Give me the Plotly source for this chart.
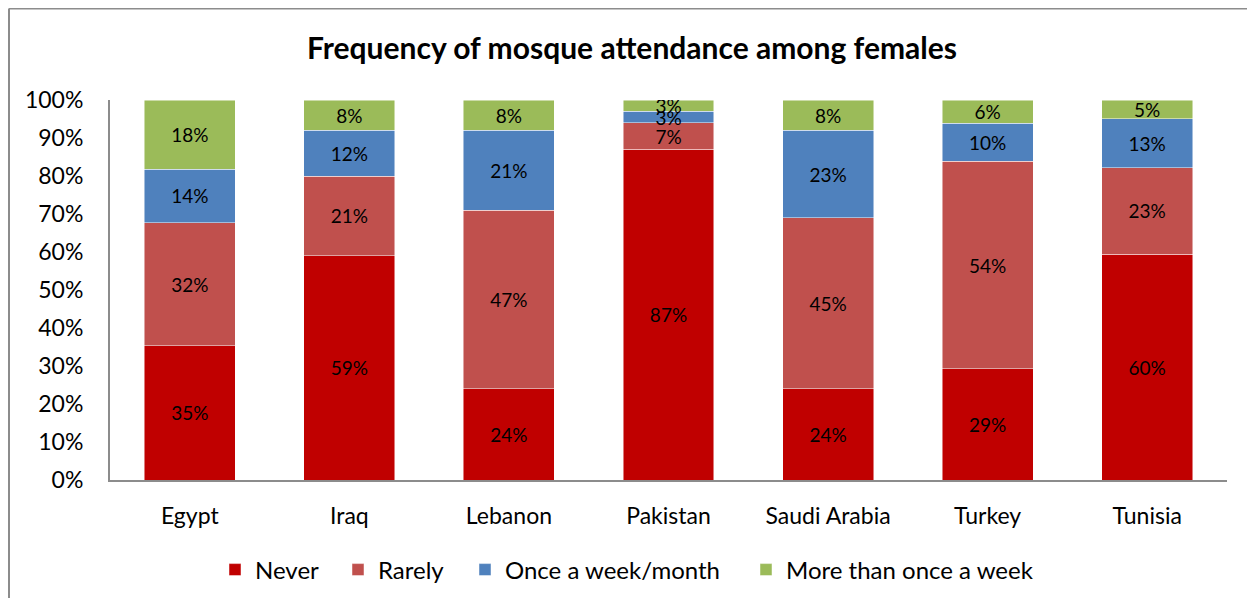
import plotly.graph_objects as go

countries = ["Egypt", "Iraq", "Lebanon", "Pakistan", "Saudi Arabia", "Turkey", "Tunisia"]
never = [35, 59, 24, 87, 24, 29, 60]
rarely = [32, 21, 47, 7, 45, 54, 23]
once_week_month = [14, 12, 21, 3, 23, 10, 13]
more_than_once = [18, 8, 8, 3, 8, 6, 5]
y_ticks = [0, 10, 20, 30, 40, 50, 60, 70, 80, 90, 100]
y_tick_labels = [f"{v}%" for v in y_ticks]

series = [
    ("Never", never, "#C00000"),
    ("Rarely", rarely, "#C0504D"),
    ("Once a week/month", once_week_month, "#4F81BD"),
    ("More than once a week", more_than_once, "#9BBB59"),
]

FONT = "Lato, Carlito, Calibri, sans-serif"

W, H = 1240, 590
L, R, T, B = 102, 21, 92, 118
PW = W - L - R
PH = H - T - B

# desired legend text starts (screen px)
legend_text_x = [255, 378, 505, 786]
legend_names = ["legend", "legend2", "legend3", "legend4"]

fig = go.Figure()
for (name, vals, color), lg in zip(series, legend_names):
    fig.add_trace(go.Bar(
        x=countries, y=vals, name=name, legend=lg,
        marker=dict(color=color, line=dict(color="rgba(255,255,255,0.6)", width=0.8)),
        text=[f"{v}%" for v in vals],
        textposition="inside", insidetextanchor="middle",
        constraintext="none",
        textfont=dict(family=FONT, size=19, color="black"),
        hoverinfo="x+y+name",
    ))

legend_layout = {}
for tx, lg in zip(legend_text_x, legend_names):
    legend_layout[lg] = dict(
        orientation="h", x=(tx - 40 - 8 - L) / PW, xanchor="left",
        y=(T + PH - (570 - 8)) / PH, yanchor="middle",
        font=dict(family=FONT, size=24, color="black"),
        bgcolor="rgba(0,0,0,0)",
    )

fig.update_layout(
    width=W, height=H,
    barmode="stack", barnorm="percent", bargap=0.43,
    plot_bgcolor="white", paper_bgcolor="white",
    margin=dict(l=L, r=R, t=T, b=B, autoexpand=False),
    font=dict(family=FONT, color="black"),
    title=dict(text="<b>Frequency of mosque attendance among females</b>",
               x=(632 - 8) / W, xanchor="center", y=1 - 40 / H, yanchor="middle",
               xref="container",
               font=dict(family=FONT, size=30, color="black")),
    showlegend=True,
    **legend_layout,
)
fig.update_xaxes(showline=True, linecolor="#8C8C8C", linewidth=2, showgrid=False,
                 ticks="", tickfont=dict(family=FONT, size=23, color="black"),
                 ticklabelstandoff=14)
fig.update_yaxes(range=[0, 100], tickvals=y_ticks, ticktext=y_tick_labels,
                 showline=True, linecolor="#8C8C8C", linewidth=2, showgrid=False,
                 zeroline=False, ticks="",
                 tickfont=dict(family=FONT, size=23, color="black"),
                 ticklabelstandoff=20)

# chart area border (top and left edges visible)
bx = (1 - L) / PW
by = (T + PH - 0.5) / PH
fig.add_shape(type="line", xref="paper", yref="paper",
              x0=bx, x1=1.2, y0=by, y1=by,
              line=dict(color="#8C8C8C", width=2))
fig.add_shape(type="line", xref="paper", yref="paper",
              x0=bx, x1=bx, y0=by, y1=-0.5,
              line=dict(color="#8C8C8C", width=2))

fig.write_html("out.html")
